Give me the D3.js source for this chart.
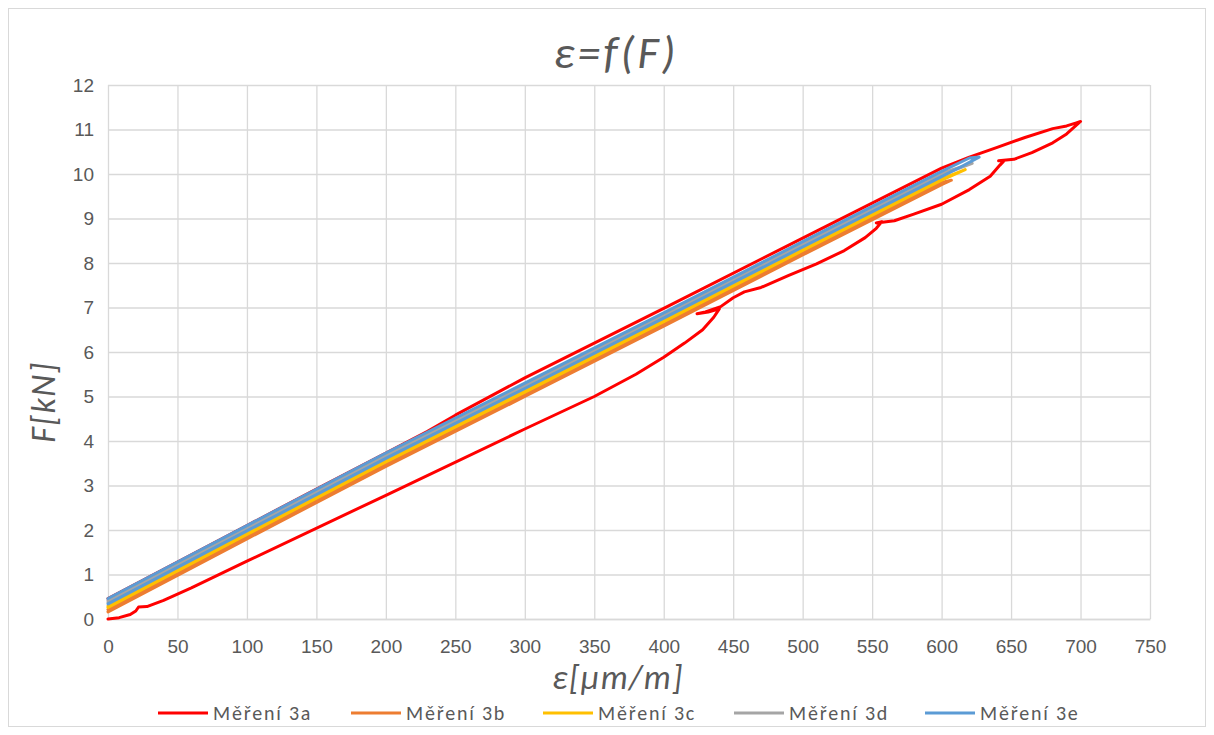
<!DOCTYPE html>
<html>
<head>
<meta charset="utf-8">
<script src="https://cdn.jsdelivr.net/npm/d3@7"></script>
<style>
    body { margin: 0; background: #fff; }
    svg { font-family: Carlito, Lato, sans-serif; }
    .tick text { fill: #595959; font-size: 19px; }
    .grid line { stroke: #d9d9d9; stroke-width: 1.3; }
    .grid path { display: none; }
</style>
</head>
<body>
<div id="chart"></div>
<script>
// ticks
const xTicks = [0, 50, 100, 150, 200, 250, 300, 350, 400, 450, 500, 550, 600, 650, 700, 750];
const yTicks = [0, 1, 2, 3, 4, 5, 6, 7, 8, 9, 10, 11, 12];

// [strain µm/m, force kN] (loading, then unloading)
const series3a = [
    [0, 0], [8, 0.03], [16, 0.1], [20, 0.18], [22, 0.27], [28, 0.28], [40, 0.42], [60, 0.7],
    [100, 1.3], [200, 2.78], [300, 4.27], [350, 5.0], [380, 5.5], [400, 5.88], [415, 6.2],
    [428, 6.5], [436, 6.78], [440, 6.97], [432, 6.9], [424, 6.86], [430, 6.9], [441, 7.02],
    [450, 7.22], [458, 7.35], [470, 7.45], [490, 7.72], [510, 7.98], [530, 8.28], [545, 8.57],
    [553, 8.78], [557, 8.93], [553, 8.9], [566, 8.95], [580, 9.1], [600, 9.32], [620, 9.65],
    [635, 9.95], [642, 10.2], [645, 10.3], [641, 10.3], [652, 10.33], [665, 10.48], [680, 10.7],
    [690, 10.9], [696, 11.07], [700, 11.18], [697, 11.15], [690, 11.08], [680, 11.02], [660, 10.82],
    [640, 10.6], [620, 10.38], [600, 10.13], [500, 8.56], [400, 6.98], [300, 5.42], [250, 4.58],
    [230, 4.22], [200, 3.73], [150, 2.92], [100, 2.1], [50, 1.28], [0, 0.46]
];
const series3b = [
    [0, 0.16], [50, 0.98], [100, 1.8], [200, 3.43], [300, 5.0], [400, 6.58], [500, 8.18],
    [600, 9.76], [607, 9.86], [600, 9.81], [500, 8.23], [400, 6.63], [300, 5.05], [200, 3.48],
    [100, 1.85], [50, 1.03], [0, 0.21]
];
const series3c = [
    [0, 0.26], [50, 1.08], [100, 1.9], [200, 3.53], [300, 5.1], [400, 6.68], [500, 8.28],
    [600, 9.86], [617, 10.1], [600, 9.89], [500, 8.31], [400, 6.71], [300, 5.13], [200, 3.56],
    [100, 1.93], [50, 1.11], [0, 0.29]
];
const series3d = [
    [0, 0.38], [50, 1.2], [100, 2.02], [200, 3.65], [300, 5.22], [400, 6.8], [500, 8.4],
    [600, 9.98], [622, 10.24], [600, 10.02], [500, 8.44], [400, 6.84], [300, 5.26], [200, 3.69],
    [100, 2.06], [50, 1.24], [0, 0.42]
];
const series3e = [
    [0, 0.34], [50, 1.16], [100, 1.98], [200, 3.61], [300, 5.18], [400, 6.76], [500, 8.36],
    [600, 9.94], [615, 10.18], [627, 10.38], [620, 10.36], [600, 10.06], [500, 8.48], [400, 6.88],
    [300, 5.3], [200, 3.73], [100, 2.1], [50, 1.28], [0, 0.46]
];

const seriesNames = ["Měření 3a", "Měření 3b", "Měření 3c", "Měření 3d", "Měření 3e"];
const seriesColors = ["#ff0000", "#ed7d31", "#ffc000", "#a5a5a5", "#5b9bd5"];
const allSeries = [series3a, series3b, series3c, series3d, series3e];

const width = 1214, height = 735;
const margin = {top: 85, right: 64, bottom: 116, left: 108};
const plotWidth = width - margin.left - margin.right;
const plotHeight = height - margin.top - margin.bottom;

const svg = d3.select("#chart").append("svg")
    .attr("width", width)
    .attr("height", height);

svg.append("rect")
    .attr("x", 8.5).attr("y", 8.5)
    .attr("width", width - 17).attr("height", height - 17)
    .attr("fill", "#fff")
    .attr("stroke", "#d9d9d9");

const g = svg.append("g")
    .attr("transform", `translate(${margin.left}, ${margin.top})`);

const x = d3.scaleLinear().domain([0, 750]).range([0, plotWidth]);
const y = d3.scaleLinear().domain([0, 12]).range([plotHeight, 0]);

// gridlines
g.append("g")
    .attr("class", "grid")
    .attr("transform", `translate(0, ${plotHeight})`)
    .call(d3.axisBottom(x).tickValues(xTicks).tickSize(-plotHeight).tickFormat(""));

g.append("g")
    .attr("class", "grid")
    .call(d3.axisLeft(y).tickValues(yTicks).tickSize(-plotWidth).tickFormat(""));

// tick labels
const xAxis = g.append("g")
    .attr("transform", `translate(0, ${plotHeight})`)
    .call(d3.axisBottom(x).tickValues(xTicks).tickSize(0).tickPadding(21));
xAxis.select(".domain").attr("stroke", "#d9d9d9").attr("stroke-width", 1.3);

const yAxis = g.append("g")
    .call(d3.axisLeft(y).tickValues(yTicks).tickSize(0).tickPadding(14));
yAxis.select(".domain").remove();

// lines
const line = d3.line()
    .x(d => x(d[0]))
    .y(d => y(d[1]));

allSeries.forEach((data, i) => {
    g.append("path")
        .datum(data)
        .attr("fill", "none")
        .attr("stroke", seriesColors[i])
        .attr("stroke-width", 3)
        .attr("stroke-linejoin", "round")
        .attr("stroke-linecap", "round")
        .attr("d", line);
});

// titles
svg.append("text")
    .attr("x", 616)
    .attr("y", 68)
    .attr("text-anchor", "middle")
    .attr("font-size", 46)
    .attr("letter-spacing", 3)
    .attr("font-style", "italic")
    .attr("fill", "#595959")
    .text("ε=f(F)");

svg.append("text")
    .attr("x", 618)
    .attr("y", 689)
    .attr("text-anchor", "middle")
    .attr("font-size", 34)
    .attr("letter-spacing", 1.5)
    .attr("font-style", "italic")
    .attr("fill", "#595959")
    .text("ε[μm/m]");

svg.append("text")
    .attr("transform", "translate(55, 402) rotate(-90)")
    .attr("text-anchor", "middle")
    .attr("font-size", 34)
    .attr("letter-spacing", 1.5)
    .attr("font-style", "italic")
    .attr("fill", "#595959")
    .text("F[kN]");

// legend
const legendX = [158, 351, 543, 734, 925];
const legend = svg.append("g");
seriesNames.forEach((name, i) => {
    legend.append("line")
        .attr("x1", legendX[i]).attr("x2", legendX[i] + 50)
        .attr("y1", 713).attr("y2", 713)
        .attr("stroke", seriesColors[i])
        .attr("stroke-width", 3);
    legend.append("text")
        .attr("x", legendX[i] + 55)
        .attr("y", 720)
        .attr("font-size", 20)
        .attr("letter-spacing", 1.8)
        .attr("fill", "#595959")
        .text(name);
});
</script>
</body>
</html>
